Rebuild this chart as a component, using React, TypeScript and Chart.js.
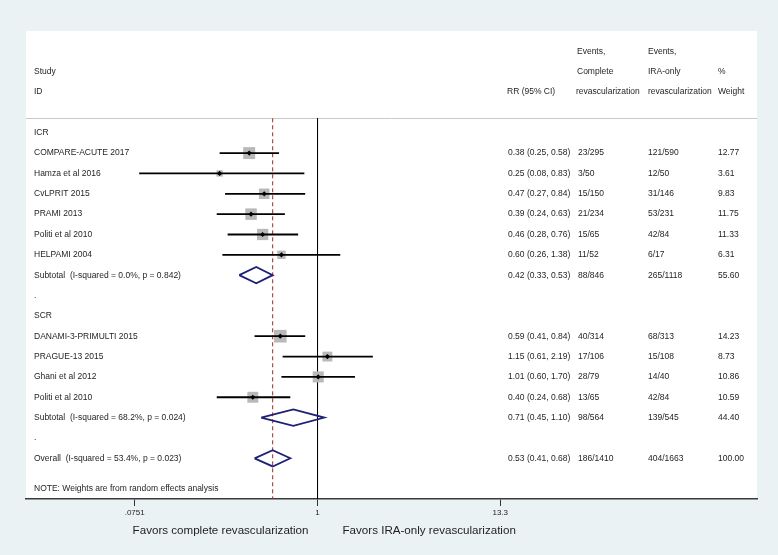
import React, { useEffect, useRef } from 'react';
import { Chart, registerables } from 'chart.js';

Chart.register(...registerables);

// ---------- data ----------
const rowLabels = [
  'ICR',
  'COMPARE-ACUTE 2017',
  'Hamza et al 2016',
  'CvLPRIT 2015',
  'PRAMI 2013',
  'Politi et al 2010',
  'HELPAMI 2004',
  'Subtotal  (I-squared = 0.0%, p = 0.842)',
  '.',
  'SCR',
  'DANAMI-3-PRIMULTI 2015',
  'PRAGUE-13 2015',
  'Ghani et al 2012',
  'Politi et al 2010',
  'Subtotal  (I-squared = 68.2%, p = 0.024)',
  '.',
  'Overall  (I-squared = 53.4%, p = 0.023)',
];
const rowKind = [
  'group', 'study', 'study', 'study', 'study', 'study', 'study', 'pooled', 'blank',
  'group', 'study', 'study', 'study', 'study', 'pooled', 'blank', 'pooled',
];
const rrEst = [null, 0.38, 0.25, 0.47, 0.39, 0.46, 0.60, 0.42, null, null, 0.59, 1.15, 1.01, 0.40, 0.71, null, 0.53];
const rrLow = [null, 0.25, 0.08, 0.27, 0.24, 0.28, 0.26, 0.33, null, null, 0.41, 0.61, 0.60, 0.24, 0.45, null, 0.41];
const rrHigh = [null, 0.58, 0.83, 0.84, 0.63, 0.76, 1.38, 0.53, null, null, 0.84, 2.19, 1.70, 0.68, 1.10, null, 0.68];
const eventsComplete = ['', '23/295', '3/50', '15/150', '21/234', '15/65', '11/52', '88/846', '', '', '40/314', '17/106', '28/79', '13/65', '98/564', '', '186/1410'];
const eventsIRA = ['', '121/590', '12/50', '31/146', '53/231', '42/84', '6/17', '265/1118', '', '', '68/313', '15/108', '14/40', '42/84', '139/545', '', '404/1663'];
const weights = [null, 12.77, 3.61, 9.83, 11.75, 11.33, 6.31, 55.60, null, null, 14.23, 8.73, 10.86, 10.59, 44.40, null, 100.00];

const tickValues = [0.0751, 1, 13.3];
const tickLabels = ['.0751', '1', '13.3'];
const overallRR = 0.53;
const nullValue = 1;
const noteText = 'NOTE: Weights are from random effects analysis';
const favorsLeft = 'Favors complete revascularization';
const favorsRight = 'Favors IRA-only revascularization';

// ---------- layout / style ----------
const W = 778;
const H = 555;
const FONT = '"Liberation Sans", Arial, sans-serif';
const BG = '#eaf2f3';
const TEXT = '#1e1e1e';
const NAVY = '#1c2174';
const X_MIN = 0.01611;
const X_MAX = 504.6;
const Y_MIN = -5;
const Y_MAX = 18;
const HEADER_ROW = -0.71;
const NOTE_ROW = 17.5;
const DIAMOND_HALF = 0.4;

export default function App() {
  const ref = useRef<HTMLCanvasElement | null>(null);

  useEffect(() => {
    document.body.style.margin = '0';
    const canvas = ref.current;
    if (!canvas) return;

    const datasets: any[] = [];

    // reference lines
    datasets.push({
      type: 'scatter',
      data: [{ x: nullValue, y: HEADER_ROW }, { x: nullValue, y: Y_MAX }],
      showLine: true,
      borderColor: '#000',
      borderWidth: 1,
      pointRadius: 0,
      order: 20,
    });
    datasets.push({
      type: 'scatter',
      data: [{ x: overallRR, y: HEADER_ROW }, { x: overallRR, y: Y_MAX }],
      showLine: true,
      borderColor: '#9b2a2a',
      borderWidth: 1,
      borderDash: [4, 3],
      pointRadius: 0,
      order: 19,
    });

    // weight squares
    const squareData: any[] = [];
    const squareRadii: number[] = [];
    rowKind.forEach((k, i) => {
      if (k === 'study') {
        squareData.push({ x: rrEst[i], y: i });
        squareRadii.push((3.35 * Math.sqrt(weights[i] as number)) / Math.SQRT2);
      }
    });
    datasets.push({
      type: 'scatter',
      data: squareData,
      pointStyle: 'rect',
      pointRadius: squareRadii,
      pointBackgroundColor: '#b9b9b9',
      pointBorderWidth: 0,
      borderWidth: 0,
      showLine: false,
      order: 10,
    });

    // CI lines
    rowKind.forEach((k, i) => {
      if (k === 'study') {
        datasets.push({
          type: 'scatter',
          data: [{ x: rrLow[i], y: i }, { x: rrHigh[i], y: i }],
          showLine: true,
          borderColor: '#000',
          borderWidth: 1.8,
          pointRadius: 0,
          order: 5,
        });
      }
    });

    // point estimates
    datasets.push({
      type: 'scatter',
      data: rowKind.map((k, i) => (k === 'study' ? { x: rrEst[i], y: i } : null)).filter(Boolean),
      pointStyle: 'rectRot',
      pointRadius: 2.6,
      pointBackgroundColor: '#000',
      pointBorderWidth: 0,
      showLine: false,
      order: 1,
    });

    // pooled diamonds
    rowKind.forEach((k, i) => {
      if (k === 'pooled') {
        datasets.push({
          type: 'scatter',
          data: [
            { x: rrLow[i], y: i },
            { x: rrEst[i], y: i - DIAMOND_HALF },
            { x: rrHigh[i], y: i },
            { x: rrEst[i], y: i + DIAMOND_HALF },
            { x: rrLow[i], y: i },
          ],
          showLine: true,
          borderColor: NAVY,
          borderWidth: 1.8,
          borderJoinStyle: 'miter',
          pointRadius: 0,
          order: 2,
        });
      }
    });

    const textPlugin = {
      id: 'forestText',
      beforeDraw(chart: any) {
        const ctx = chart.ctx;
        const a = chart.chartArea;
        ctx.save();
        ctx.fillStyle = BG;
        ctx.fillRect(0, 0, chart.width, chart.height);
        ctx.fillStyle = '#ffffff';
        ctx.fillRect(a.left, a.top, a.right - a.left, a.bottom - a.top);
        const yS = chart.scales.y;
        const hy = Math.round(yS.getPixelForValue(HEADER_ROW)) + 0.5;
        ctx.strokeStyle = '#c9c9c9';
        ctx.lineWidth = 1;
        ctx.beginPath();
        ctx.moveTo(a.left, hy);
        ctx.lineTo(a.right, hy);
        ctx.stroke();
        ctx.restore();
      },
      afterDraw(chart: any) {
        const ctx = chart.ctx;
        const yS = chart.scales.y;
        const xS = chart.scales.x;
        const a = chart.chartArea;
        const py = (r: number) => yS.getPixelForValue(r);
        ctx.save();
        ctx.fillStyle = TEXT;
        ctx.textBaseline = 'middle';
        ctx.textAlign = 'left';
        ctx.font = `8.5px ${FONT}`;

        const colLabel = a.left + 8;
        const colRR = 508;
        const colC = 577;
        const colI = 648;
        const colW = 718;

        // header
        ctx.fillText('Study', colLabel, py(-3));
        ctx.fillText('ID', colLabel, py(-2));
        ctx.fillText('RR (95% CI)', colRR - 1, py(-2));
        ctx.fillText('Events,', colC, py(-4));
        ctx.fillText('Complete', colC, py(-3));
        ctx.fillText('revascularization', colC - 1, py(-2));
        ctx.fillText('Events,', colI, py(-4));
        ctx.fillText('IRA-only', colI, py(-3));
        ctx.fillText('revascularization', colI, py(-2));
        ctx.fillText('%', colW, py(-3));
        ctx.fillText('Weight', colW, py(-2));

        rowLabels.forEach((lab, i) => {
          ctx.fillText(lab, colLabel, py(i));
          if (rrEst[i] != null) {
            const s = `${(rrEst[i] as number).toFixed(2)} (${(rrLow[i] as number).toFixed(2)}, ${(rrHigh[i] as number).toFixed(2)})`;
            ctx.fillText(s, colRR, py(i));
            ctx.fillText(eventsComplete[i], colC + 1, py(i));
            ctx.fillText(eventsIRA[i], colI, py(i));
            ctx.fillText((weights[i] as number).toFixed(2), colW, py(i));
          }
        });
        ctx.fillText(noteText, colLabel, py(NOTE_ROW));

        // favors labels
        const x1 = xS.getPixelForValue(nullValue);
        ctx.font = `11.6px ${FONT}`;
        ctx.textAlign = 'right';
        ctx.fillText(favorsLeft, x1 - 9, 531);
        ctx.textAlign = 'left';
        ctx.fillText(favorsRight, x1 + 25, 531);
        ctx.restore();
      },
    };

    const chart = new Chart(canvas, {
      type: 'scatter',
      data: { datasets },
      options: {
        animation: false,
        responsive: false,
        maintainAspectRatio: false,
        events: [],
        layout: { padding: { left: 26, right: 21, top: 31, bottom: 0 } },
        plugins: { legend: { display: false }, tooltip: { enabled: false } },
        elements: { line: { tension: 0 } },
        scales: {
          x: {
            type: 'logarithmic',
            min: X_MIN,
            max: X_MAX,
            afterBuildTicks: (s: any) => {
              s.ticks = tickValues.map((v) => ({ value: v }));
            },
            afterFit: (s: any) => {
              s.height = H - 499;
            },
            ticks: {
              autoSkip: false,
              maxRotation: 0,
              padding: 2,
              color: TEXT,
              font: { size: 8, family: FONT },
              callback: (_v: any, i: number) => tickLabels[i],
            },
            grid: {
              drawOnChartArea: false,
              drawTicks: true,
              tickLength: 7,
              color: '#333',
              lineWidth: 1,
            },
            border: { display: true, color: '#3a3a3a', width: 1.5 },
          },
          y: {
            type: 'linear',
            reverse: true,
            min: Y_MIN,
            max: Y_MAX,
            display: false,
          },
        },
      },
      plugins: [textPlugin],
    } as any);

    return () => chart.destroy();
  }, []);

  return (
    <div style={{ position: 'absolute', left: 0, top: 0, width: W, height: H }}>
      <canvas ref={ref} width={W} height={H} style={{ width: W, height: H, display: 'block' }} />
    </div>
  );
}
